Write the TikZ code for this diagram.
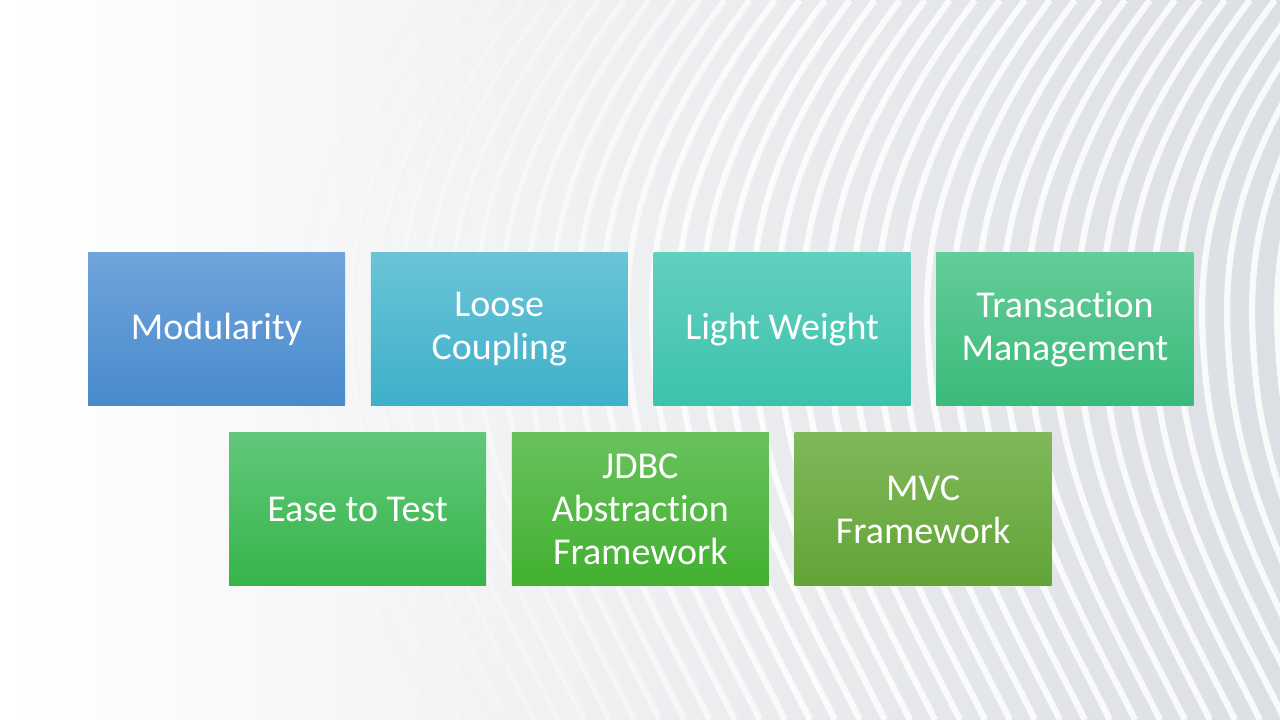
\documentclass[tikz,border=0pt]{standalone}
\usepackage{fontspec}
\setmainfont{Carlito}[Ligatures=CommonOff]
\usepackage{tikz}
\usetikzlibrary{positioning}
\usepackage{xcolor}
\definecolor{modtop}{RGB}{112,164,220}
\definecolor{modbot}{RGB}{72,138,204}
\definecolor{loosetop}{RGB}{106,196,214}
\definecolor{loosebot}{RGB}{62,176,202}
\definecolor{lighttop}{RGB}{98,208,190}
\definecolor{lightbot}{RGB}{60,194,172}
\definecolor{transtop}{RGB}{100,204,152}
\definecolor{transbot}{RGB}{58,186,122}
\definecolor{easetop}{RGB}{98,200,122}
\definecolor{easebot}{RGB}{54,180,74}
\definecolor{jdbctop}{RGB}{104,194,92}
\definecolor{jdbcbot}{RGB}{66,176,48}
\definecolor{mvctop}{RGB}{128,184,90}
\definecolor{mvcbot}{RGB}{98,164,54}
\definecolor{bggray}{RGB}{220,223,227}

\begin{document}
\begin{tikzpicture}[
    feature/.style={rectangle, minimum width=2.57cm, minimum height=1.53cm, inner sep=0pt, outer sep=0pt, text width=2.45cm, align=flush center, text=white, font=\fontsize{10.8}{12.2}\selectfont},
    modbox/.style={feature, top color=modtop, bottom color=modbot},
    loosebox/.style={feature, top color=loosetop, bottom color=loosebot},
    lightbox/.style={feature, top color=lighttop, bottom color=lightbot},
    transbox/.style={feature, top color=transtop, bottom color=transbot},
    easebox/.style={feature, top color=easetop, bottom color=easebot},
    jdbcbox/.style={feature, top color=jdbctop, bottom color=jdbcbot},
    mvcbox/.style={feature, top color=mvctop, bottom color=mvcbot},
    wave/.style={line width=1.8pt, white},
    waveshade/.style={line width=0.6pt, bggray!130}
]

% Background
\useasboundingbox (0,0) rectangle (12.8,7.2);
\clip (0,0) rectangle (12.8,7.2);
\shade[left color=white, middle color=white!90!bggray, right color=bggray] (0,0) rectangle (12.8,7.2);

% Waves
\foreach \i in {0,...,40} {
  \pgfmathsetmacro{\xa}{4.0+\i*0.25}
  \pgfmathsetmacro{\op}{min(1,\i/16)}
  \draw[waveshade, opacity=0.4*\op, xshift=0.6pt] (\xa,7.2) .. controls (\xa-1.2,5.6) and (\xa-1.3,4.6) .. (\xa-1.2,3.5) .. controls (\xa-1.1,2.2) and (\xa-0.4,1.0) .. (\xa+0.1,0);
  \draw[wave, opacity=0.85*\op] (\xa,7.2) .. controls (\xa-1.2,5.6) and (\xa-1.3,4.6) .. (\xa-1.2,3.5) .. controls (\xa-1.1,2.2) and (\xa-0.4,1.0) .. (\xa+0.1,0);
}

% Top row
\node[modbox] (modularity) at (2.165,3.905) {Modularity};
\node[loosebox, right=0.258cm of modularity] (loose) {Loose\\Coupling};
\node[lightbox, right=0.258cm of loose] (light) {Light Weight};
\node[transbox, right=0.258cm of light] (transaction) {Transaction\\Management};

% Bottom row
\node[easebox] (ease) at (3.575,2.105) {Ease to Test};
\node[jdbcbox, right=0.258cm of ease] (jdbc) {JDBC\\Abstraction\\Framework};
\node[mvcbox, right=0.258cm of jdbc] (mvc) {MVC\\Framework};

\end{tikzpicture}
\end{document}
